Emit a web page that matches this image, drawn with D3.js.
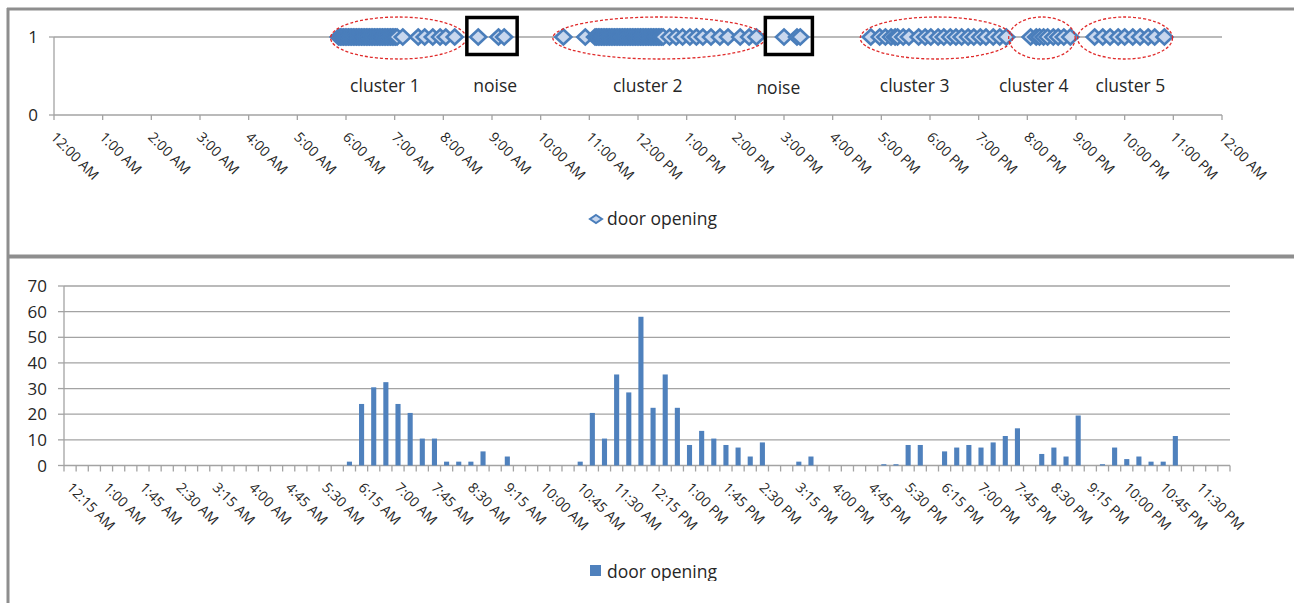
<!DOCTYPE html>
<html><head><meta charset="utf-8">
<script src="https://cdn.jsdelivr.net/npm/d3@7"></script>
<style>
body{margin:0;background:#fff;}
svg{display:block;font-family:"Open Sans",Lato,sans-serif;}
</style>
</head><body>
<svg id="c" width="1294" height="603"></svg>
<script>
// ---------- top chart data ----------
const hourLabels = ["12:00 AM","1:00 AM","2:00 AM","3:00 AM","4:00 AM","5:00 AM","6:00 AM","7:00 AM","8:00 AM","9:00 AM","10:00 AM","11:00 AM","12:00 PM","1:00 PM","2:00 PM","3:00 PM","4:00 PM","5:00 PM","6:00 PM","7:00 PM","8:00 PM","9:00 PM","10:00 PM","11:00 PM","12:00 AM"];
const yTopTicks = [0, 1];
const openingTimes = [
 "5:51","5:53","5:55","5:57","5:59","6:01","6:03","6:05","6:07","6:09","6:11","6:13","6:15","6:17","6:19","6:21","6:23","6:25","6:27","6:29","6:31","6:33","6:35","6:37","6:39","6:41","6:43","6:45","6:47","6:49","6:51","6:53","6:55","6:57","6:59","7:01","7:03",
 "7:10","7:29","7:37","7:47","7:56","8:03","8:14",
 "8:43","9:08","9:15",
 "10:28","10:55",
 "11:07","11:09","11:11","11:13","11:15","11:17","11:19","11:21","11:23","11:25","11:27","11:29","11:31","11:33","11:35","11:37","11:39","11:41","11:43","11:45","11:47","11:49","11:51","11:53","11:55","11:57","11:59","12:01","12:03","12:05","12:07","12:09","12:11","12:13","12:15","12:17","12:19","12:21","12:23","12:25","12:27","12:29","12:31",
 "12:39","12:47","12:55","13:04","13:12","13:20","13:30","13:41","13:51","14:06","14:17","14:26",
 "15:00","15:16","15:20",
 "16:47","16:58","17:05","17:12","17:17","17:20","17:27","17:34","17:46","17:54","18:01","18:10","18:17","18:25","18:32","18:39","18:47","18:54","19:02","19:09","19:18","19:26","19:34",
 "20:04","20:11","20:15","20:20","20:25","20:32","20:38","20:45","20:53",
 "21:23","21:33","21:42","21:52","22:00","22:10","22:19","22:29","22:37","22:49"
];
const clusterNames = ["cluster 1","cluster 2","cluster 3","cluster 4","cluster 5"];
const clusterFrom = ["5:41","10:15","16:34","19:37","21:02"];
const clusterTo = ["8:28","14:37","19:42","20:59","22:59"];
const clusterLabelAt = ["6:48","12:12","17:41","20:08","22:07"];
const noiseFrom = ["8:29","14:37"];
const noiseTo = ["9:31","15:35"];
const noiseLabelAt = ["9:04","14:53"];

// ---------- bottom chart data ----------
const binLabels = ["12:15 AM","12:30 AM","12:45 AM","1:00 AM","1:15 AM","1:30 AM","1:45 AM","2:00 AM","2:15 AM","2:30 AM","2:45 AM","3:00 AM",
"3:15 AM","3:30 AM","3:45 AM","4:00 AM","4:15 AM","4:30 AM","4:45 AM","5:00 AM","5:15 AM","5:30 AM","5:45 AM","6:00 AM",
"6:15 AM","6:30 AM","6:45 AM","7:00 AM","7:15 AM","7:30 AM","7:45 AM","8:00 AM","8:15 AM","8:30 AM","8:45 AM","9:00 AM",
"9:15 AM","9:30 AM","9:45 AM","10:00 AM","10:15 AM","10:30 AM","10:45 AM","11:00 AM","11:15 AM","11:30 AM","11:45 AM","12:00 PM",
"12:15 PM","12:30 PM","12:45 PM","1:00 PM","1:15 PM","1:30 PM","1:45 PM","2:00 PM","2:15 PM","2:30 PM","2:45 PM","3:00 PM",
"3:15 PM","3:30 PM","3:45 PM","4:00 PM","4:15 PM","4:30 PM","4:45 PM","5:00 PM","5:15 PM","5:30 PM","5:45 PM","6:00 PM",
"6:15 PM","6:30 PM","6:45 PM","7:00 PM","7:15 PM","7:30 PM","7:45 PM","8:00 PM","8:15 PM","8:30 PM","8:45 PM","9:00 PM",
"9:15 PM","9:30 PM","9:45 PM","10:00 PM","10:15 PM","10:30 PM","10:45 PM","11:00 PM","11:15 PM","11:30 PM","11:45 PM","12:00 AM"];
const binCounts = [
 0,0,0,0,0,0,0,0,0,0,0,0,
 0,0,0,0,0,0,0,0,0,0,0,1.5,
 24,30.5,32.5,24,20.5,10.5,10.5,1.5,1.5,1.5,5.5,0,
 3.5,0,0,0,0,0,1.5,20.5,10.5,35.5,28.5,58,
 22.5,35.5,22.5,8,13.5,10.5,8,7,3.5,9,0,0,
 1.5,3.5,0,0,0,0,0,0.5,0.5,8,8,0,
 5.5,7,8,7,9,11.5,14.5,0,4.5,7,3.5,19.5,
 0,0.5,7,2.5,3.5,1.5,1.5,11.5,0,0,0,0
];
const binTickLabels = ["12:15 AM","1:00 AM","1:45 AM","2:30 AM","3:15 AM","4:00 AM","4:45 AM","5:30 AM","6:15 AM","7:00 AM","7:45 AM","8:30 AM","9:15 AM","10:00 AM","10:45 AM","11:30 AM","12:15 PM","1:00 PM","1:45 PM","2:30 PM","3:15 PM","4:00 PM","4:45 PM","5:30 PM","6:15 PM","7:00 PM","7:45 PM","8:30 PM","9:15 PM","10:00 PM","10:45 PM","11:30 PM"];
const yBottomTicks = [0,10,20,30,40,50,60,70];
const seriesName = "door opening";

// ---------- drawing ----------
const BLUE = "#4a7ebb", BAR = "#4f81bd", LIGHT = "#c8d7ee", GRID = "#a3a3a3", FRAME = "#8e8e8e", TXT = "#262626";
const svg = d3.select("#c");
const toH = s => { const [h, m] = s.split(":").map(Number); return h + m / 60; };

// frames
svg.append("line").attr("x1",7).attr("x2",1294).attr("y1",9).attr("y2",9).attr("stroke",FRAME).attr("stroke-width",3);
svg.append("line").attr("x1",7).attr("x2",1294).attr("y1",256.5).attr("y2",256.5).attr("stroke",FRAME).attr("stroke-width",4);
svg.append("line").attr("x1",8).attr("x2",8).attr("y1",8).attr("y2",603).attr("stroke",FRAME).attr("stroke-width",3);

// ===== top chart =====
const xT = d3.scaleLinear().domain([0, 24]).range([54, 1222]);
const yT = d3.scaleLinear().domain([0, 1]).range([115, 37]);
const gTop = svg.append("g");

gTop.append("line").attr("x1",xT(0)).attr("x2",xT(24)).attr("y1",yT(1)).attr("y2",yT(1)).attr("stroke",GRID).attr("stroke-width",1.3);
gTop.append("line").attr("x1",xT(0)).attr("x2",xT(0)).attr("y1",yT(0)).attr("y2",yT(1)).attr("stroke",GRID).attr("stroke-width",1.3);
yTopTicks.forEach(v => {
  gTop.append("line").attr("x1",xT(0)-5).attr("x2",xT(0)).attr("y1",yT(v)).attr("y2",yT(v)).attr("stroke",GRID).attr("stroke-width",1.3);
  gTop.append("text").attr("x",xT(0)-16).attr("y",yT(v)).attr("dy","0.36em").attr("text-anchor","end")
    .attr("font-size",17).attr("fill",TXT).text(v);
});
gTop.append("line").attr("x1",xT(0)).attr("x2",xT(24)).attr("y1",yT(0)).attr("y2",yT(0)).attr("stroke",GRID).attr("stroke-width",1.3);
hourLabels.forEach((lab, i) => {
  gTop.append("line").attr("x1",xT(i)).attr("x2",xT(i)).attr("y1",yT(0)).attr("y2",yT(0)+5).attr("stroke",GRID).attr("stroke-width",1.3);
  gTop.append("text").attr("transform",`translate(${xT(i)-4},${yT(0)+23}) rotate(45)`)
    .attr("font-size",14).attr("fill",TXT).text(lab);
});

const diamond = "M0,-7.5L8,0L0,7.5L-8,0Z";
gTop.append("g").selectAll("path").data(openingTimes).join("path")
  .attr("d", diamond)
  .attr("transform", d => `translate(${xT(toH(d))},${yT(1)})`)
  .attr("fill", LIGHT).attr("stroke", BLUE).attr("stroke-width", 2.6).attr("stroke-linejoin","miter");

clusterNames.forEach((n, i) => {
  const a = xT(toH(clusterFrom[i])), b = xT(toH(clusterTo[i]));
  gTop.append("ellipse").attr("cx",(a+b)/2).attr("cy",yT(1)+1).attr("rx",(b-a)/2).attr("ry",21)
    .attr("fill","none").attr("stroke","#e02b2b").attr("stroke-width",1.3).attr("stroke-dasharray","3,2");
  gTop.append("text").attr("x",xT(toH(clusterLabelAt[i]))).attr("y",92).attr("text-anchor","middle")
    .attr("font-size",17.5).attr("fill",TXT).text(n);
});
noiseFrom.forEach((f, i) => {
  const a = xT(toH(f)), b = xT(toH(noiseTo[i]));
  gTop.append("rect").attr("x",a).attr("y",yT(1)-19.5).attr("width",b-a).attr("height",37)
    .attr("fill","none").attr("stroke","#000").attr("stroke-width",3.5);
  gTop.append("text").attr("x",xT(toH(noiseLabelAt[i]))).attr("y",92 + i*2).attr("text-anchor","middle")
    .attr("font-size",17.5).attr("fill",TXT).text("noise");
});
gTop.append("path").attr("d","M0,-4L6,0L0,4L-6,0Z").attr("transform","translate(596,219)")
  .attr("fill",LIGHT).attr("stroke",BLUE).attr("stroke-width",2);
gTop.append("text").attr("x",607).attr("y",225).attr("font-size",17.5).attr("fill",TXT).text(seriesName);

// ===== bottom chart =====
const xB = d3.scaleBand().domain(binLabels).range([64, 1230]).paddingInner(0.58).paddingOuter(0.29);
const yB = d3.scaleLinear().domain([0, 70]).range([465.5, 286]);
const gBot = svg.append("g");
const step = xB.step(), gapHalf = (step - xB.bandwidth()) / 2;

yBottomTicks.forEach(v => {
  gBot.append("line").attr("x1",64).attr("x2",1230).attr("y1",yB(v)).attr("y2",yB(v)).attr("stroke",GRID).attr("stroke-width",1.3);
  gBot.append("line").attr("x1",58).attr("x2",64).attr("y1",yB(v)).attr("y2",yB(v)).attr("stroke",GRID).attr("stroke-width",1.3);
  gBot.append("text").attr("x",47).attr("y",yB(v)).attr("dy","0.36em").attr("text-anchor","end")
    .attr("font-size",17).attr("fill",TXT).text(v);
});
gBot.append("line").attr("x1",64).attr("x2",64).attr("y1",yB(0)).attr("y2",yB(70)).attr("stroke",GRID).attr("stroke-width",1.3);
binLabels.forEach((c, i) => {
  const bx = xB(c) - gapHalf;
  gBot.append("line").attr("x1",bx).attr("x2",bx).attr("y1",yB(0)).attr("y2",yB(0)+6).attr("stroke",GRID).attr("stroke-width",1.3);
  if (i === binLabels.length - 1) {
    gBot.append("line").attr("x1",bx+step).attr("x2",bx+step).attr("y1",yB(0)).attr("y2",yB(0)+6).attr("stroke",GRID).attr("stroke-width",1.3);
  }
});
gBot.append("g").selectAll("rect").data(binLabels.map((c, i) => ({c, v: binCounts[i]})).filter(d => d.v > 0)).join("rect")
  .attr("x", d => xB(d.c)).attr("width", xB.bandwidth())
  .attr("y", d => yB(d.v)).attr("height", d => yB(0) - yB(d.v))
  .attr("fill", BAR);
binTickLabels.forEach(lab => {
  const cx = xB(lab) + xB.bandwidth() / 2;
  gBot.append("text").attr("transform",`translate(${cx-4},${yB(0)+23}) rotate(45)`)
    .attr("font-size",14).attr("fill",TXT).text(lab);
});
svg.append("clipPath").attr("id","lc").append("rect").attr("x",0).attr("y",0).attr("width",1294).attr("height",581);
const lg = gBot.append("g").attr("clip-path","url(#lc)");
lg.append("rect").attr("x",590).attr("y",565).attr("width",11).attr("height",11).attr("fill",BAR);
lg.append("text").attr("x",607).attr("y",578).attr("font-size",17.5).attr("fill",TXT).text(seriesName);
</script>
</body></html>
